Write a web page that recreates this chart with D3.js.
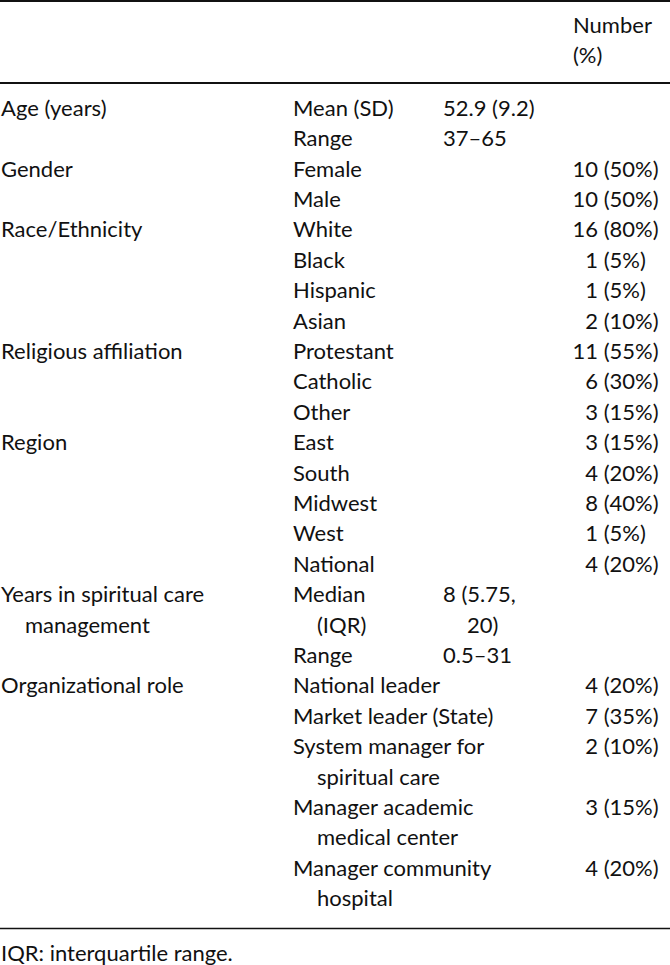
<!DOCTYPE html>
<html>
<head>
<meta charset="utf-8">
<script src="https://cdn.jsdelivr.net/npm/d3@7"></script>
<style>
  html, body { margin: 0; padding: 0; background: #fff; }
  svg text { font-family: Lato, "Open Sans", sans-serif; fill: #111; }
</style>
</head>
<body>
<div id="table-chart"></div>
<script>
// table values, one entry per row of the body
const groupLabels = [["Age (years)"], ["Gender"], ["Race/Ethnicity"], ["Religious affiliation"], ["Region"], ["Years in spiritual care", "management"], ["Organizational role"]];
const rowGroup = [0, 0, 1, 1, 2, 2, 2, 2, 3, 3, 3, 4, 4, 4, 4, 4, 5, 5, 6, 6, 6, 6, 6];
const rowLabels = [
  ["Mean (SD)"], ["Range"],
  ["Female"], ["Male"],
  ["White"], ["Black"], ["Hispanic"], ["Asian"],
  ["Protestant"], ["Catholic"], ["Other"],
  ["East"], ["South"], ["Midwest"], ["West"], ["National"],
  ["Median", "(IQR)"], ["Range"],
  ["National leader"], ["Market leader (State)"], ["System manager for", "spiritual care"], ["Manager academic", "medical center"], ["Manager community", "hospital"]
];
const rowStats = [
  ["52.9 (9.2)"], ["37–65"],
  null, null,
  null, null, null, null,
  null, null, null,
  null, null, null, null, null,
  ["8 (5.75,", "20)"], ["0.5–31"],
  null, null, null, null, null
];
const counts = [null, null, 10, 10, 16, 1, 1, 2, 11, 6, 3, 3, 4, 8, 1, 4, null, null, 4, 7, 2, 3, 4];
const percents = [null, null, 50, 50, 80, 5, 5, 10, 55, 30, 15, 15, 20, 40, 5, 20, null, null, 20, 35, 10, 15, 20];
const headerLabels = ["Number", "(%)"];
const footnote = "IQR: interquartile range.";

(function () {
  let w = 670, h = 965;
  let fontSize = 22;
  let indent = 24;

  // which line of text each body row starts on
  let rows = [];
  let line = 0;
  for (let r = 0; r < rowLabels.length; r++) {
    let first = r === 0 || rowGroup[r] !== rowGroup[r - 1];
    let nLines = Math.max(
      rowLabels[r].length,
      rowStats[r] ? rowStats[r].length : 1,
      first ? groupLabels[rowGroup[r]].length : 1
    );
    rows.push({ i: r, line: line, first: first });
    line += nLines;
  }

  // line index -> baseline
  let y = d3.scaleLinear().domain([0, 1]).range([115.7, 146.1]);
  let headY = d3.scaleLinear().domain([0, 1]).range([33, 63]);
  let x = d3.scaleOrdinal()
    .domain(["group", "label", "stat", "count"])
    .range([1, 293, 443, 598]);

  let svg = d3.select('#table-chart').append('svg')
    .attr('width', w)
    .attr('height', h);

  // rules
  let rules = [{ y: 1, sw: 2 }, { y: 83, sw: 2 }, { y: 928.5, sw: 1.5 }];
  svg.selectAll('line.rule')
    .data(rules)
    .enter()
    .append('line')
    .attr('class', 'rule')
    .attr('x1', 0)
    .attr('x2', w)
    .attr('y1', d => d.y)
    .attr('y2', d => d.y)
    .attr('stroke', '#111')
    .attr('stroke-width', d => d.sw);

  // header
  svg.selectAll('text.head')
    .data(headerLabels)
    .enter()
    .append('text')
    .attr('class', 'head')
    .attr('x', x('count') - 25)
    .attr('y', (d, i) => headY(i))
    .style('font-size', fontSize + 'px')
    .text(d => d);

  // writes a block of lines, later lines get a hanging indent
  function addLines(g, lines, col, startLine) {
    g.selectAll(null)
      .data(lines)
      .enter()
      .append('text')
      .attr('x', (d, i) => x(col) + (i > 0 ? indent : 0))
      .attr('y', (d, i) => y(startLine + i))
      .style('font-size', fontSize + 'px')
      .text(d => d);
  }

  let body = svg.append('g').classed('body', true);
  rows.forEach(function (row) {
    let g = body.append('g');
    if (row.first) addLines(g, groupLabels[rowGroup[row.i]], 'group', row.line);
    addLines(g, rowLabels[row.i], 'label', row.line);
    if (rowStats[row.i]) addLines(g, rowStats[row.i], 'stat', row.line);
    if (counts[row.i] !== null) {
      // count right aligned, percent follows it
      g.append('text')
        .attr('x', x('count'))
        .attr('y', y(row.line))
        .attr('text-anchor', 'end')
        .style('font-size', fontSize + 'px')
        .text(counts[row.i]);
      g.append('text')
        .attr('x', x('count'))
        .attr('y', y(row.line))
        .style('font-size', fontSize + 'px')
        .style('white-space', 'pre')
        .text(' (' + percents[row.i] + '%)');
    }
  });

  svg.append('text')
    .attr('x', 1)
    .attr('y', 961)
    .style('font-size', fontSize + 'px')
    .text(footnote);
})();
</script>
</body>
</html>
